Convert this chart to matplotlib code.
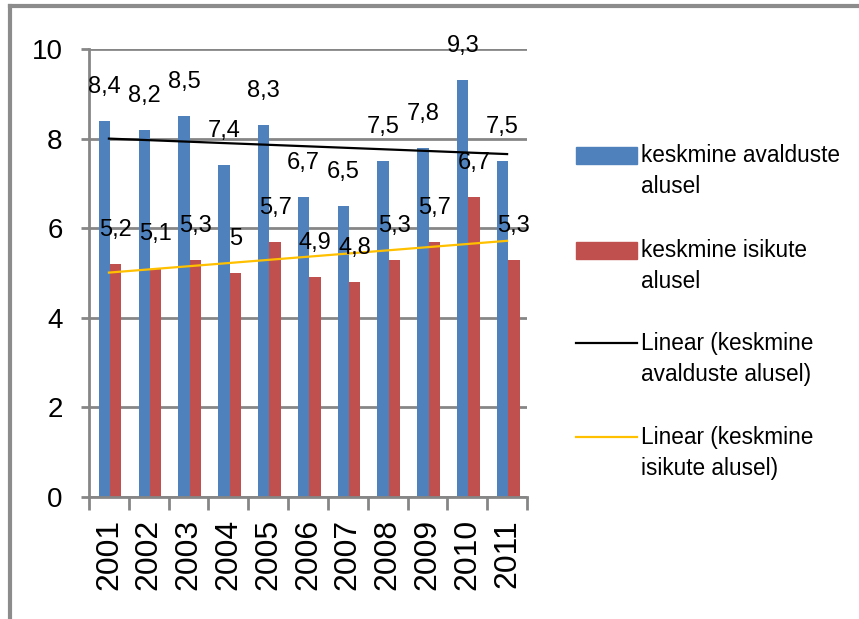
import numpy as np
import matplotlib
matplotlib.use("Agg")
import matplotlib.pyplot as plt
from matplotlib.lines import Line2D
from matplotlib.patches import Rectangle

years = ["2001", "2002", "2003", "2004", "2005", "2006", "2007", "2008", "2009", "2010", "2011"]
avaldused = [8.4, 8.2, 8.5, 7.4, 8.3, 6.7, 6.5, 7.5, 7.8, 9.3, 7.5]
isikud = [5.2, 5.1, 5.3, 5.0, 5.7, 4.9, 4.8, 5.3, 5.7, 6.7, 5.3]
series_names = ["keskmine avalduste\nalusel", "keskmine isikute\nalusel",
                "Linear (keskmine\navalduste alusel)", "Linear (keskmine\nisikute alusel)"]
yticks = [0, 2, 4, 6, 8, 10]

BLUE = "#4F81BD"
RED = "#C0504D"
GOLD = "#FFC000"
GRAY = "#868686"
FONT = "Liberation Sans"

W, H = 859, 619
fig = plt.figure(figsize=(W / 100, H / 100), dpi=100)
plt.rcParams['font.family'] = [FONT, 'DejaVu Sans']

def fx(px):
    return px / W

def fy(py):
    return 1 - py / H

ax = fig.add_axes([fx(89), fy(497), fx(527) - fx(89), fy(49) - fy(497)])

n = len(years)
x = np.arange(n)
bw = 1 / 3.5
shift = 0.03
xb = x - bw / 2 + shift
xr = x + bw / 2 + shift
ax.bar(xb, avaldused, width=bw, color=BLUE, zorder=2)
ax.bar(xr, isikud, width=bw, color=RED, zorder=2)

# linear trend lines
xt = np.arange(1, n + 1)
for vals, col in [(avaldused, "black"), (isikud, GOLD)]:
    k, b = np.polyfit(xt, vals, 1)
    ax.plot(x, k * xt + b, color=col, lw=1.6, zorder=3)

# data labels
def fmt(v):
    return ("%g" % v).replace(".", ",")

for xi, v in zip(xb, avaldused):
    ax.annotate(fmt(v), (xi, v), xytext=(0, 24.5), textcoords="offset points",
                ha="center", va="center", fontsize=17, family=FONT, zorder=4)
for xi, v in zip(xr, isikud):
    ax.annotate(fmt(v), (xi, v), xytext=(0, 24.5), textcoords="offset points",
                ha="center", va="center", fontsize=17, family=FONT, zorder=4)

ax.set_xlim(-0.5, n - 0.5)
ax.set_ylim(0, 10)
ax.set_yticks(yticks)
ax.set_yticklabels([str(t) for t in yticks], fontsize=20, family=FONT)
ax.yaxis.grid(True, color=GRAY, lw=2, zorder=0)
ax.set_axisbelow(True)

ax.set_xticks(np.arange(n + 1) - 0.5)
ax.set_xticklabels([])
ax.set_xticks(x, minor=True)
ax.set_xticklabels(years, minor=True, rotation=90, fontsize=23, family=FONT)
ax.tick_params(axis="x", which="major", length=9, width=2, color=GRAY, direction="out")
ax.tick_params(axis="x", which="minor", length=0, pad=16)
ax.tick_params(axis="y", length=6, width=2, color=GRAY, pad=13)

for s in ["top", "right"]:
    ax.spines[s].set_visible(False)
for s in ["left", "bottom"]:
    ax.spines[s].set_color(GRAY)
    ax.spines[s].set_linewidth(2)

# legend (manual, Excel style)
entry_y = [155, 250, 343, 437]
lx0, lx1, tx = 576, 637, 641
fig.add_artist(Rectangle((fx(lx0), fy(entry_y[0] + 8.5)), fx(lx1) - fx(lx0), 17 / H,
                         transform=fig.transFigure, color=BLUE))
fig.add_artist(Rectangle((fx(lx0), fy(entry_y[1] + 8.5)), fx(lx1) - fx(lx0), 17 / H,
                         transform=fig.transFigure, color=RED))
fig.add_artist(Line2D([fx(lx0), fx(lx1)], [fy(entry_y[2])] * 2, color="black", lw=1.6,
                      transform=fig.transFigure))
fig.add_artist(Line2D([fx(lx0), fx(lx1)], [fy(entry_y[3])] * 2, color=GOLD, lw=1.6,
                      transform=fig.transFigure))
for yy, name in zip(entry_y, series_names):
    fig.text(fx(tx), fy(yy - 11), name, ha="left", va="top", fontsize=16.3,
             family=FONT, linespacing=1.45)

# outer frame
fig.add_artist(Line2D([fx(10), fx(W)], [fy(6), fy(6)], color="#8C8C8C", lw=3,
                      transform=fig.transFigure))
fig.add_artist(Line2D([fx(10), fx(10)], [fy(6), fy(H)], color="#8C8C8C", lw=3,
                      transform=fig.transFigure))

fig.savefig("out.png", dpi=100)
